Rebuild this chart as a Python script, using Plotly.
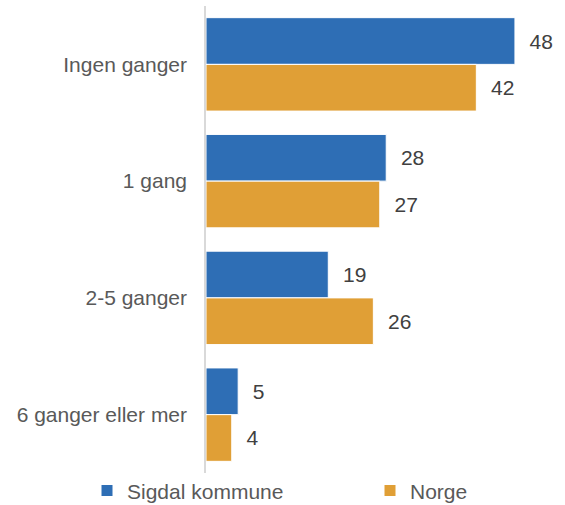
import plotly.graph_objects as go

categories = ["Ingen ganger", "1 gang", "2-5 ganger", "6 ganger eller mer"]
sigdal = [48, 28, 19, 5]
norge = [42, 27, 26, 4]
series_names = ["Sigdal kommune", "Norge"]

fig = go.Figure()
fig.add_trace(go.Bar(
    y=categories, x=sigdal, name=series_names[0], orientation="h",
    marker=dict(color="#2E6EB5", line=dict(color="#ffffff", width=1)),
    text=sigdal, texttemplate="  %{x}", textposition="outside",
    textfont=dict(size=21, color="#404040"), cliponaxis=False,
    legend="legend",
))
fig.add_trace(go.Bar(
    y=categories, x=norge, name=series_names[1], orientation="h",
    marker=dict(color="#E09F36", line=dict(color="#ffffff", width=1)),
    text=norge, texttemplate="  %{x}", textposition="outside",
    textfont=dict(size=21, color="#404040"), cliponaxis=False,
    legend="legend2",
))

legend_common = dict(orientation="h", xref="container", yref="container",
                     y=0.028, xanchor="left", yanchor="middle",
                     itemwidth=30, bgcolor="rgba(0,0,0,0)",
                     font=dict(size=21, color="#595959"))

fig.update_layout(
    width=565, height=505,
    margin=dict(l=206, r=5, t=6, b=32, autoexpand=False),
    paper_bgcolor="white", plot_bgcolor="white",
    barmode="group", bargap=0.2, bargroupgap=0,
    font=dict(family="Liberation Sans, Arial, sans-serif", size=21, color="#595959"),
    showlegend=True,
    legend=dict(x=87 / 565, **legend_common),
    legend2=dict(x=370 / 565, **legend_common),
    xaxis=dict(range=[0, 55], showgrid=False, showticklabels=False, zeroline=False,
               showline=False, automargin=False),
    yaxis=dict(autorange="reversed", showline=True, linecolor="#d9d9d9", linewidth=1.5,
               ticks="", ticklabelstandoff=13, showgrid=False, automargin=False,
               tickfont=dict(size=21, color="#595959")),
)

fig.write_html("out.html", config={"displayModeBar": False},
               post_script="document.body.style.margin='0';document.body.style.overflow='hidden';")
